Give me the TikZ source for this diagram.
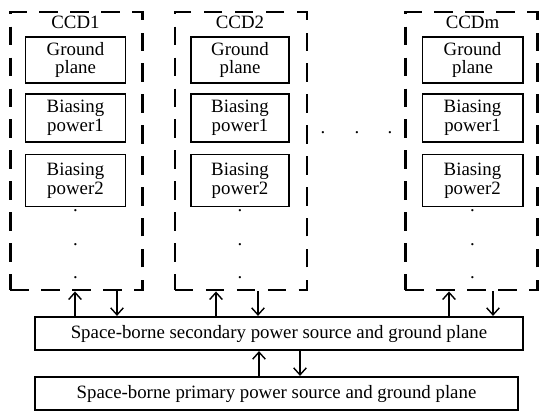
\documentclass[tikz,border=0pt]{standalone}
\usepackage{fontspec}
\setmainfont{Liberation Serif}
\usetikzlibrary{arrows.meta}
\tikzset{every picture/.style={line width=1pt}}

\begin{document}
\begin{tikzpicture}[x=0.025cm, y=-0.025cm, >={Straight Barb[length=5pt, width=9pt]},
    every node/.style={font=\fontsize{13.4}{13.4}\selectfont, inner sep=0pt}]
        \useasboundingbox (0,0) rectangle (539,412);
        % CCD groups
        \node[draw, line width=2pt, dash pattern=on 13pt off 9pt, minimum width=3.3cm, minimum height=6.95cm] (ccd1) at (76.5,151) {};
        \node[draw, line width=2pt, dash pattern=on 13pt off 9pt, minimum width=3.3cm, minimum height=6.95cm] (ccd2) at (241,151) {};
        \node[draw, line width=2pt, dash pattern=on 13pt off 9pt, minimum width=3.3cm, minimum height=6.95cm] (ccdm) at (471.5,151) {};
        \node (l1) at (75.5,22) {CCD1};
        \node (l2) at (240,22) {CCD2};
        \node (lm) at (472.5,22) {CCDm};
        % inner boxes
        \node[draw, line width=1.4pt, align=center, minimum width=2.5cm, minimum height=1.15cm] (gp1) at (75.5,60) {Ground\\plane};
        \node[draw, line width=1.4pt, align=center, minimum width=2.5cm, minimum height=1.2cm] (bpa1) at (75.5,118) {Biasing\\power1};
        \node[draw, line width=1.4pt, align=center, minimum width=2.5cm, minimum height=1.3cm] (bpb1) at (75.5,180.5) {Biasing\\power2};
        \node[draw, line width=1.4pt, align=center, minimum width=2.45cm, minimum height=1.15cm] (gp2) at (240,60) {Ground\\plane};
        \node[draw, line width=1.4pt, align=center, minimum width=2.45cm, minimum height=1.2cm] (bpa2) at (240,118) {Biasing\\power1};
        \node[draw, line width=1.4pt, align=center, minimum width=2.45cm, minimum height=1.3cm] (bpb2) at (240,180.5) {Biasing\\power2};
        \node[draw, line width=1.4pt, align=center, minimum width=2.5cm, minimum height=1.15cm] (gpm) at (472.5,60) {Ground\\plane};
        \node[draw, line width=1.4pt, align=center, minimum width=2.5cm, minimum height=1.2cm] (bpam) at (472.5,118) {Biasing\\power1};
        \node[draw, line width=1.4pt, align=center, minimum width=2.5cm, minimum height=1.3cm] (bpbm) at (472.5,180.5) {Biasing\\power2};
        % dots
        \node (d11) at (75.5,211) {.}; \node (d12) at (75.5,245) {.}; \node (d13) at (75.5,278) {.};
        \node (d21) at (240,211) {.}; \node (d22) at (240,245) {.}; \node (d23) at (240,278) {.};
        \node (dm1) at (472.5,211) {.}; \node (dm2) at (472.5,245) {.}; \node (dm3) at (472.5,278) {.};
        \node (e1) at (323,133) {.}; \node (e2) at (357,133) {.}; \node (e3) at (390,133) {.};
        % power sources
        \node[draw, line width=1.4pt, minimum width=12.2cm, minimum height=0.83cm] (sec) at (279,333.5) {Space-borne secondary power source and ground plane};
        \node[draw, line width=1.4pt, minimum width=12.075cm, minimum height=0.83cm] (pri) at (276.5,393.5) {Space-borne primary power source and ground plane};
        \draw[->] (sec.north -| 75,0) -- (ccd1.south -| 75,0); \draw[->] (ccd1.south -| 117,0) -- (sec.north -| 117,0);
        \draw[->] (sec.north -| 216,0) -- (ccd2.south -| 216,0); \draw[->] (ccd2.south -| 258,0) -- (sec.north -| 258,0);
        \draw[->] (sec.north -| 449,0) -- (ccdm.south -| 449,0); \draw[->] (ccdm.south -| 493,0) -- (sec.north -| 493,0);
        \draw[->] (pri.north -| 259,0) -- (sec.south -| 259,0); \draw[->] (sec.south -| 300,0) -- (pri.north -| 300,0);
    \end{tikzpicture}
\end{document}
